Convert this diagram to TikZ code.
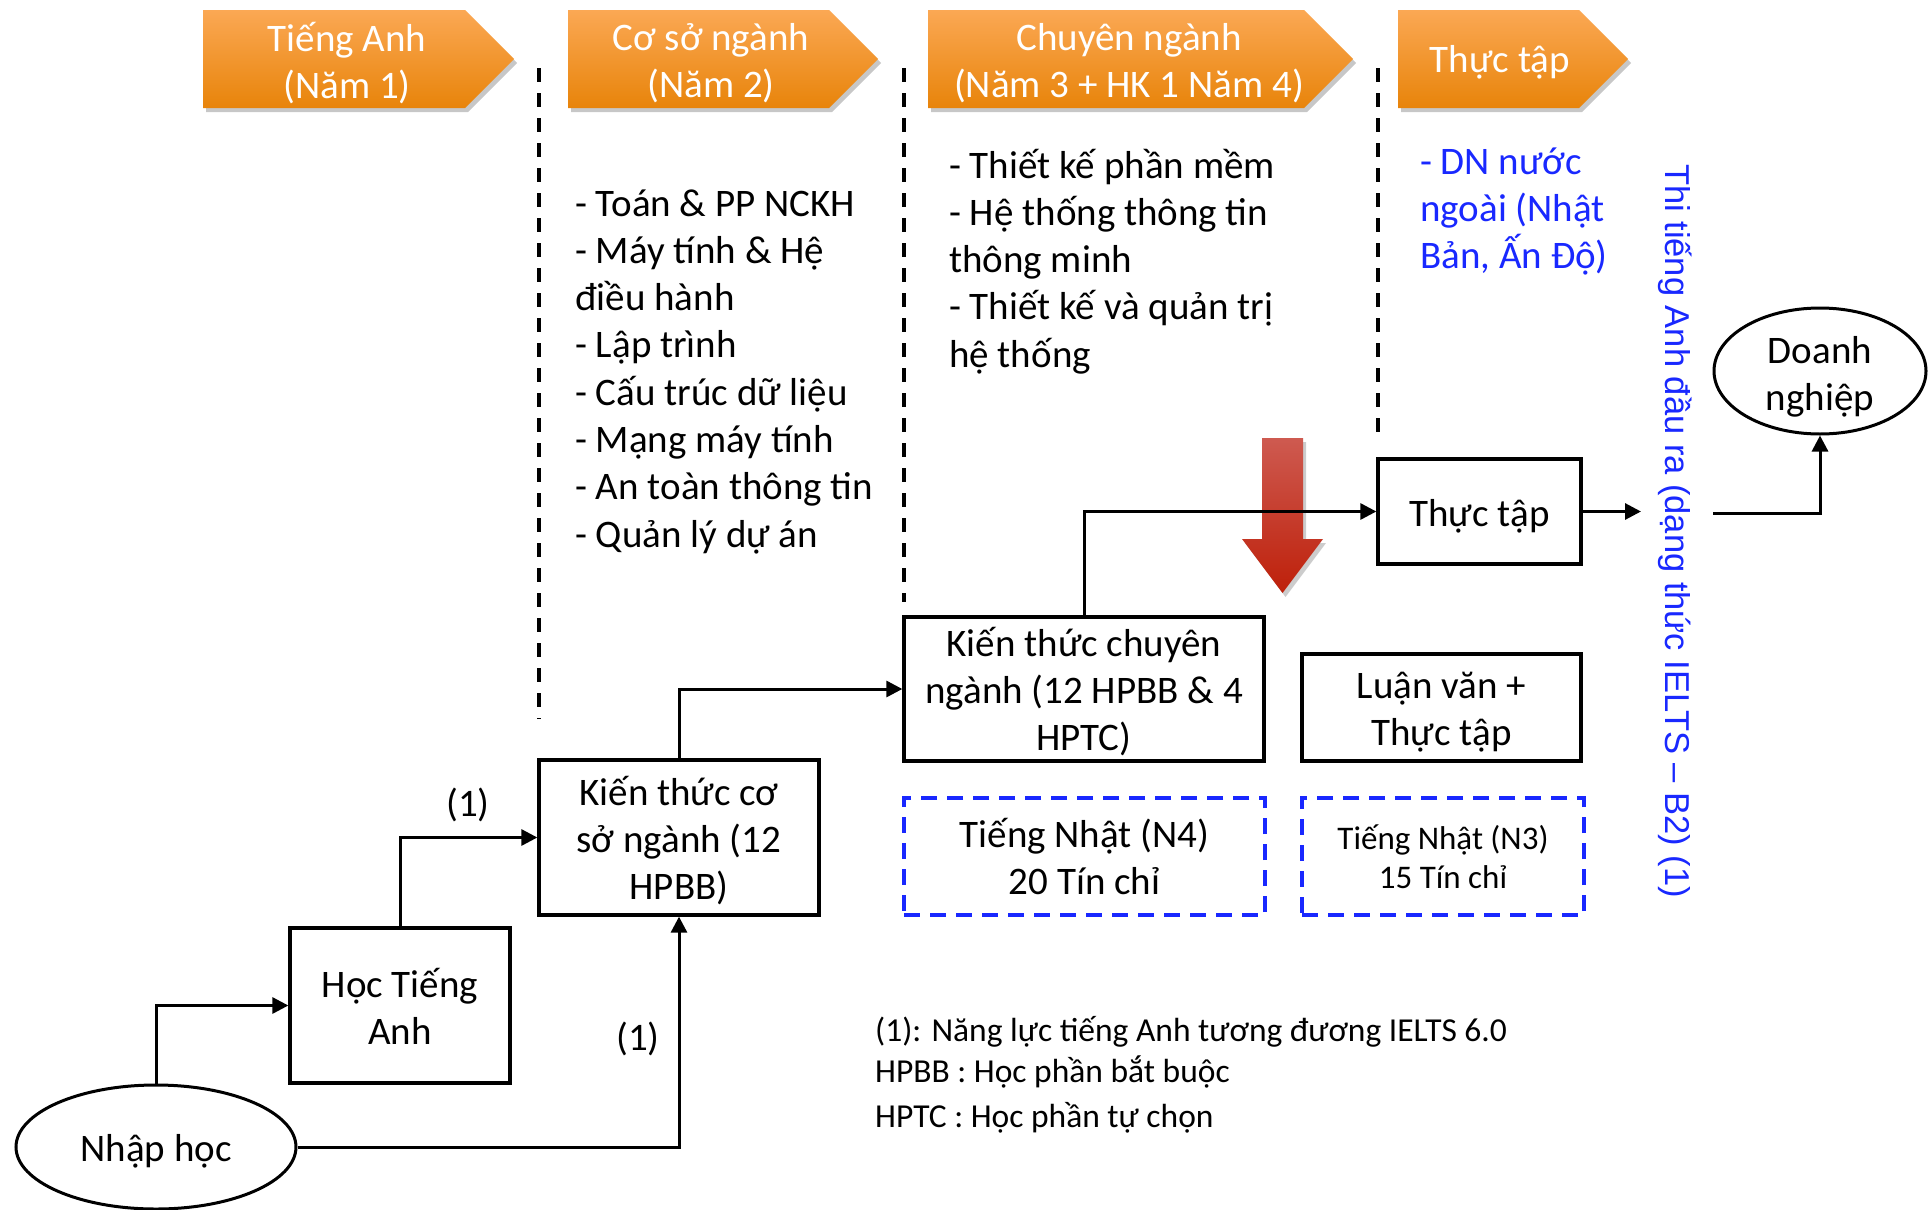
\documentclass[tikz,border=0pt]{standalone}
\usepackage{fontspec}
\setmainfont{Carlito}
\newfontfamily\arialf{Liberation Sans}
\usetikzlibrary{arrows.meta,shapes.geometric}
\definecolor{orgtop}{RGB}{251,168,84}
\definecolor{orgbot}{RGB}{232,132,10}
\definecolor{myblue}{RGB}{25,40,255}
\definecolor{redtop}{RGB}{206,90,80}
\definecolor{redbot}{RGB}{190,32,10}
\begin{document}
\begin{tikzpicture}[x=1pt,y=-1pt,
  txt/.style={font=\fontsize{39}{47}\selectfont, inner sep=0pt},
  boxtxt/.style={font=\fontsize{39}{47}\selectfont, inner sep=0pt, align=center},
  box/.style={draw, line width=3.3pt, inner sep=0pt},
  jbox/.style={draw=myblue, line width=3.5pt, dash pattern=on 16pt off 10pt, align=center, inner sep=0pt},
  conn/.style={line width=3pt},
  arr/.style={conn, -{Triangle[length=16pt,width=16pt]}},
  vdash/.style={line width=3.5pt, dash pattern=on 14pt off 11pt},
  chev/.style={top color=orgtop, bottom color=orgbot, draw=none},
  chevshadow/.style={fill=black, opacity=0.22},
  chevtxt/.style={text=white, align=center, font=\fontsize{39}{47}\selectfont, inner sep=0pt}
]
\useasboundingbox[fill=white] (0,0) rectangle (1928,1210);

% chevrons
\foreach \xa/\xb/\xt in {203/465/514, 568/829/878, 928/1304/1353, 1398/1579/1628}{
  \fill[chevshadow] (\xa+3,14) -- (\xb+3,14) -- (\xt+3,63) -- (\xb+3,112) -- (\xa+3,112) -- cycle;
  \shade[chev] (\xa,10) -- (\xb,10) -- (\xt,59) -- (\xb,108) -- (\xa,108) -- cycle;
}
\node[chevtxt] (c1) at (347,63) {Tiếng Anh\\(Năm 1)};
\node[chevtxt] (c2) at (711,63) {Cơ sở ngành\\(Năm 2)};
\node[chevtxt] (c3) at (1129,63) {Chuyên ngành\\(Năm 3 + HK 1 Năm 4)};
\node[chevtxt] (c4) at (1500,62) {Thực tập};

% dashed separators
\draw[vdash] (539,68) -- (539,719);
\draw[vdash] (904,68) -- (904,602);
\draw[vdash] (1378,68) -- (1378,437);

% column texts
\foreach \t [count=\i from 0] in {{- Toán \& PP NCKH},{- Máy tính \& Hệ},{điều hành},{- Lập trình},{- Cấu trúc dữ liệu},{- Mạng máy tính},{- An toàn thông tin},{- Quản lý dự án}}
  \node[txt, anchor=base west] (a\i) at (575,{216+47.3*\i}) {\t};
\foreach \t [count=\i from 0] in {{- Thiết kế phần mềm},{- Hệ thống thông tin},{thông minh},{- Thiết kế và quản trị},{hệ thống}}
  \node[txt, anchor=base west] (b\i) at (949,{178+47.3*\i}) {\t};
\foreach \t [count=\i from 0] in {{- DN nước},{ngoài (Nhật},{Bản, Ấn Độ)}}
  \node[txt, anchor=base west, text=myblue] (d\i) at (1420,{174+47*\i}) {\t};

% red arrow
\fill[black, opacity=0.2] (1265,442) -- (1306,442) -- (1306,543) -- (1326,543) -- (1285.5,597) -- (1245,543) -- (1265,543) -- cycle;
\shade[top color=redtop, bottom color=redbot] (1262,438) -- (1303,438) -- (1303,539) -- (1323,539) -- (1282.5,593) -- (1242,539) -- (1262,539) -- cycle;

% boxes
\node[draw, ellipse, line width=3pt, minimum width=280pt, minimum height=124pt, inner sep=0pt] (nhap) at (156,1147) {};
\node[boxtxt] (nhapt) at ([yshift=-4pt]nhap.center) {Nhập học};
\node[box, minimum width=220pt, minimum height=155pt] (hoc) at (400,1005.5) {};
\node[boxtxt] (hoct) at ([yshift=-1pt]hoc.center) {Học Tiếng\\Anh};
\node[box, minimum width=280pt, minimum height=155pt] (ktcs) at (679,837.5) {};
\node[boxtxt] (ktcst) at ([yshift=-3pt]ktcs.center) {Kiến thức cơ\\sở ngành (12\\HPBB)};
\node[box, minimum width=360pt, minimum height=144pt] (ktcn) at (1084,689) {};
\node[boxtxt] (ktcnt) at ([yshift=-3pt]ktcn.center) {Kiến thức chuyên\\ngành (12 HPBB \& 4\\HPTC)};
\node[box, minimum width=279pt, minimum height=107pt] (luan) at (1441.5,707.5) {};
\node[boxtxt] (luant) at ([yshift=-5pt]luan.center) {Luận văn +\\Thực tập};
\node[box, minimum width=203pt, minimum height=105pt] (tt) at (1479.5,511.5) {};
\node[boxtxt] (ttt) at ([yshift=-5pt]tt.center) {Thực tập};
\node[jbox, minimum width=361pt, minimum height=117pt, font=\fontsize{39}{47}\selectfont] (n4) at (1084.5,856.5) {Tiếng Nhật (N4)\\20 Tín chỉ};
\node[jbox, minimum width=282pt, minimum height=117pt, font=\fontsize{33}{39}\selectfont] (n3) at (1443,856.5) {Tiếng Nhật (N3)\\15 Tín chỉ};
\node[draw, ellipse, line width=3pt, minimum width=212pt, minimum height=126pt, inner sep=0pt] (dn) at (1820,371) {};
\node[boxtxt] (dnt) at ([yshift=-6pt]dn.center) {Doanh\\nghiệp};

% vertical text
\node[rotate=-90, text=myblue, inner sep=0pt, font=\arialf\fontsize{34.5}{40}\selectfont] (vt) at (1675,531) {Thi tiếng Anh đầu ra (dạng thức IELTS – B2) (1)};

% connectors
\draw[arr] (nhap.north) |- (hoc.west);
\draw[arr] (hoc.north) |- (ktcs.west);
\draw[arr] (nhap.east) -| (ktcs.south);
\draw[arr] (ktcs.north) |- (ktcn.west);
\draw[arr] (ktcn.north) |- (tt.west);
\coordinate (ttend) at (1641,511.5);
\draw[arr] (tt.east) -- (ttend);
\coordinate (dnstart) at (1713,513);
\draw[arr] (dnstart) -| (dn.south);

% labels
\node[txt] (l1) at (468,805) {(1)};
\node[txt] (l2) at (638,1039) {(1)};

% footnotes
\node[anchor=base west, inner sep=0pt, font=\fontsize{33.5}{40}\selectfont] (f1) at (875,1041) {(1): Năng lực tiếng Anh tương đương IELTS 6.0};
\node[anchor=base west, inner sep=0pt, font=\fontsize{33.5}{40}\selectfont] (f2) at (875,1082) {HPBB : Học phần bắt buộc};
\node[anchor=base west, inner sep=0pt, font=\fontsize{33.5}{40}\selectfont] (f3) at (875,1127) {HPTC : Học phần tự chọn};
\end{tikzpicture}
\end{document}
